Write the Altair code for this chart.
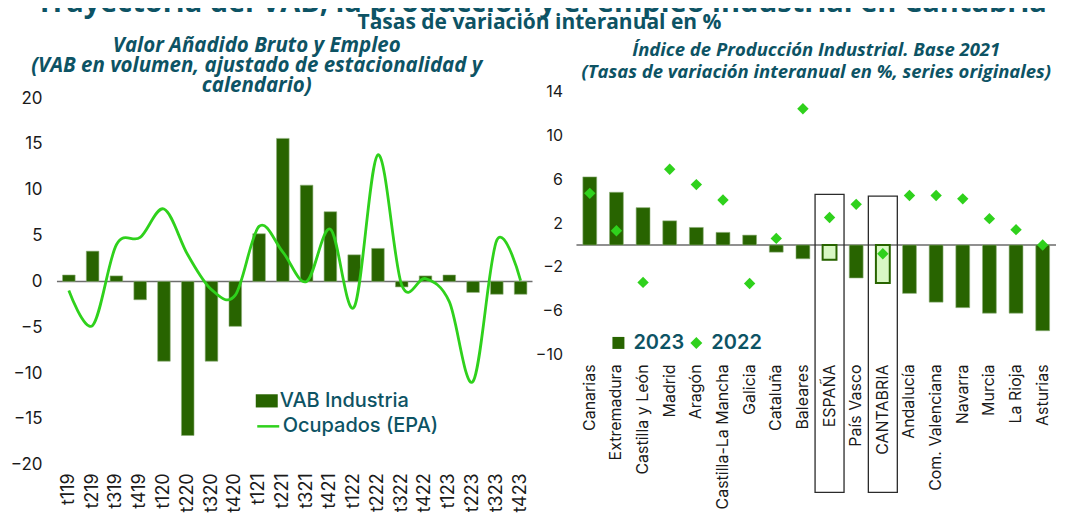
import altair as alt
import pandas as pd

# ---------------- data ----------------
quarters = ["t119", "t219", "t319", "t419", "t120", "t220", "t320", "t420",
            "t121", "t221", "t321", "t421", "t122", "t222", "t322", "t422",
            "t123", "t223", "t323", "t423"]
vab_industria = [0.7, 3.3, 0.6, -2.0, -8.7, -16.8, -8.7, -4.9,
                 5.2, 15.6, 10.5, 7.6, 2.9, 3.6, -0.6, 0.6,
                 0.7, -1.2, -1.4, -1.4]
ocupados_epa = [-1.0, -4.8, 4.0, 4.8, 7.9, 2.9, -0.9, -1.5,
                6.0, 3.2, 0.0, 5.7, -2.8, 13.8, -0.4, 0.3,
                -2.2, -10.9, 4.5, 0.1]

regions = ["Canarias", "Extremadura", "Castilla y León", "Madrid", "Aragón",
           "Castilla-La Mancha", "Galicia", "Cataluña", "Baleares", "ESPAÑA",
           "País Vasco", "CANTABRIA", "Andalucía", "Com. Valenciana", "Navarra",
           "Murcia", "La Rioja", "Asturias"]
ipi_2023 = [6.2, 4.8, 3.4, 2.2, 1.6, 1.15, 0.9, -0.65, -1.25, -1.35,
            -3.0, -3.45, -4.4, -5.2, -5.7, -6.2, -6.2, -7.8]
ipi_2022 = [4.7, 1.3, -3.4, 6.9, 5.5, 4.1, -3.5, 0.6, 12.4, 2.5,
            3.7, -0.8, 4.5, 4.5, 4.2, 2.4, 1.4, 0.0]

highlight_regions = ["ESPAÑA", "CANTABRIA"]
box_top = [4.6, 4.45]
box_bottom = [-22.5, -22.5]

left_ticks = [-20, -15, -10, -5, 0, 5, 10, 15, 20]
right_ticks = [-10, -6, -2, 2, 6, 10, 14]

MAIN_TITLE = "Trayectoria del VAB, la producción y el empleo industrial en Cantabria"
SUBTITLE = "Tasas de variación interanual en %"
LEFT_TITLE = ["Valor Añadido Bruto y Empleo",
              "(VAB en volumen,  ajustado de estacionalidad y",
              "calendario)"]
RIGHT_TITLE = ["Índice de Producción Industrial. Base 2021",
               "(Tasas de variación interanual en %, series originales)"]

# ---------------- styles ----------------
TEAL = "#0d5364"
DARK_GREEN = "#286400"
BRIGHT_GREEN = "#2fd11c"
PALE_GREEN = "#d9f8c4"
AXIS_TXT = "#1a1a1a"
TICK_FONT = "Inter"
TITLE_FONT = "Open Sans"

LW, LH = 476, 374
RW, RH = 480, 264
STRIP_W = 990

left_df = pd.DataFrame({"q": quarters, "vab": vab_industria, "ocup": ocupados_epa,
                        "s_bar": "VAB Industria", "s_line": "Ocupados (EPA)"})
right_df = pd.DataFrame({"region": regions, "v23": ipi_2023, "v22": ipi_2022,
                         "s23": "2023", "s22": "2022"})
box_df = pd.DataFrame({"region": highlight_regions, "top": box_top, "bottom": box_bottom})
zero_df = pd.DataFrame({"z": [0]})


def x_left():
    return alt.X("q:N", scale=alt.Scale(domain=quarters, paddingInner=0.47, paddingOuter=0.235),
                 axis=alt.Axis(title=None, labelAngle=-90, ticks=False, domain=False,
                               labelPadding=8, labelFontSize=18, labelColor=AXIS_TXT,
                               labelFont=TICK_FONT))


def y_left(field):
    return alt.Y(field, scale=alt.Scale(domain=[-20, 20.75], nice=False, zero=False),
                 axis=alt.Axis(title=None, values=left_ticks, grid=False, domain=False,
                               ticks=False, tickSize=0, labelPadding=15, labelFontSize=17,
                               labelColor=AXIS_TXT, labelFont=TICK_FONT))


def x_right():
    return alt.X("region:N", scale=alt.Scale(domain=regions, paddingInner=0.48, paddingOuter=0.24),
                 axis=alt.Axis(title=None, labelAngle=-90, ticks=False, domain=False,
                               labelPadding=9, labelFontSize=16, labelColor=AXIS_TXT,
                               labelFont=TICK_FONT))


def y_right(field):
    return alt.Y(field, scale=alt.Scale(domain=[-10, 14], nice=False, zero=False),
                 axis=alt.Axis(title=None, values=right_ticks, grid=False, domain=False,
                               ticks=False, tickSize=0, labelPadding=14, labelFontSize=16,
                               labelColor=AXIS_TXT, labelFont=TICK_FONT))


# ---------------- left panel ----------------
left_zero = alt.Chart(zero_df).mark_rule(color="#6e6e6e", strokeWidth=1.5).encode(y=y_left("z:Q"))

left_bars = alt.Chart(left_df).mark_bar(stroke="#8fb07a", strokeWidth=0.6).encode(
    x=x_left(),
    y=y_left("vab:Q"),
    fill=alt.Fill("s_bar:N", scale=alt.Scale(range=[DARK_GREEN]),
                  legend=alt.Legend(title=None, orient="none", legendX=199, legendY=299,
                                    symbolType="M-1,-0.6L1,-0.6L1,0.6L-1,0.6Z", symbolSize=484,
                                    symbolStrokeWidth=0, labelFontSize=20, labelFont=TICK_FONT,
                                    labelFontWeight=500, labelColor=TEAL, labelOffset=2,
                                    padding=0)),
)

left_line = alt.Chart(left_df).mark_line(interpolate="cardinal", strokeWidth=2.8).encode(
    x=x_left(),
    y=y_left("ocup:Q"),
    stroke=alt.Stroke("s_line:N", scale=alt.Scale(range=[BRIGHT_GREEN]),
                      legend=alt.Legend(title=None, orient="none", legendX=199, legendY=323,
                                        symbolType="stroke", symbolSize=484, symbolStrokeWidth=2.5,
                                        labelFontSize=20, labelFont=TICK_FONT, labelFontWeight=500,
                                        labelColor=TEAL, labelOffset=2, padding=0)),
)

left = alt.layer(left_zero, left_bars, left_line).properties(
    width=LW, height=LH,
    title=alt.TitleParams(LEFT_TITLE, font=TITLE_FONT, fontSize=20.5, fontStyle="italic",
                          fontWeight="bold", color=TEAL, anchor="middle", frame="group",
                          dx=-38, offset=-7, lineHeight=20),
)

# ---------------- right panel ----------------
right_zero = alt.Chart(zero_df).mark_rule(color="#222222", strokeWidth=1.2).encode(y=y_right("z:Q"))

right_bars = alt.Chart(right_df).mark_bar(stroke="#8fb07a", strokeWidth=0.6).encode(
    x=x_right(),
    y=y_right("v23:Q"),
    color=alt.Color("s23:N", scale=alt.Scale(range=[DARK_GREEN]),
                    legend=alt.Legend(title=None, orient="none", legendX=32, legendY=242,
                                      symbolType="square", symbolSize=144, symbolStrokeWidth=0,
                                      labelFontSize=20, labelFont=TICK_FONT, labelFontWeight=600,
                                      labelColor=TEAL, labelOffset=5, padding=0)),
)

right_highlight = alt.Chart(right_df).transform_filter(
    alt.FieldOneOfPredicate(field="region", oneOf=highlight_regions)
).mark_bar(fill=PALE_GREEN, stroke=DARK_GREEN, strokeWidth=2).encode(
    x=x_right(),
    y=y_right("v23:Q"),
)

right_boxes = alt.Chart(box_df).mark_bar(filled=False, fill="transparent", stroke="#2b2b2b",
                                         strokeWidth=1.3, size=29, clip=False).encode(
    x=x_right(),
    y=y_right("top:Q"),
    y2="bottom:Q",
)

right_points = alt.Chart(right_df).mark_point(filled=True, size=130, opacity=1,
                                              color=BRIGHT_GREEN).encode(
    x=x_right(),
    y=y_right("v22:Q"),
    shape=alt.Shape("s22:N", scale=alt.Scale(range=["diamond"]),
                    legend=alt.Legend(title=None, orient="none", legendX=110, legendY=242,
                                      symbolType="diamond", symbolSize=144,
                                      symbolFillColor=BRIGHT_GREEN, symbolStrokeColor=BRIGHT_GREEN,
                                      symbolStrokeWidth=0,
                                      labelFontSize=20, labelFont=TICK_FONT, labelFontWeight=600,
                                      labelColor=TEAL, labelOffset=5, padding=0)),
)

right = alt.layer(right_zero, right_bars, right_highlight, right_boxes, right_points).properties(
    width=RW, height=RH,
    title=alt.TitleParams(RIGHT_TITLE, font=TITLE_FONT, fontSize=18.5, fontStyle="italic",
                          fontWeight="bold", color=TEAL, anchor="middle", frame="group",
                          dx=0, offset=2, lineHeight=22),
)

# ---------------- top strip with main title (cut at the top edge) ----------------
strip_df = pd.DataFrame({"t": ["\n" + MAIN_TITLE], "s": [SUBTITLE]})
strip_main = alt.Chart(strip_df).mark_text(
    font=TITLE_FONT, fontSize=29, fontWeight="bold", color=TEAL, baseline="alphabetic",
    align="center", lineBreak="\n", lineHeight=-22).encode(
    text="t:N", x=alt.value(485), y=alt.value(26))
strip_sub = alt.Chart(strip_df).mark_text(
    font=TITLE_FONT, fontSize=21, fontWeight="bold", color=TEAL, baseline="alphabetic",
    align="center").encode(text="s:N", x=alt.value(483), y=alt.value(21))
strip = alt.layer(strip_main, strip_sub).properties(width=STRIP_W, height=27)

panels = alt.hconcat(left, right, spacing=1).resolve_scale(
    color="independent", fill="independent", stroke="independent", shape="independent"
).resolve_legend(color="independent", fill="independent", stroke="independent",
                 shape="independent")

chart = alt.vconcat(strip, panels, spacing=0).properties(
    padding={"left": 2, "right": 2, "top": 0, "bottom": 0}
).configure_view(stroke=None)

chart.save("out.html", embed_options={"renderer": "svg", "actions": False})
